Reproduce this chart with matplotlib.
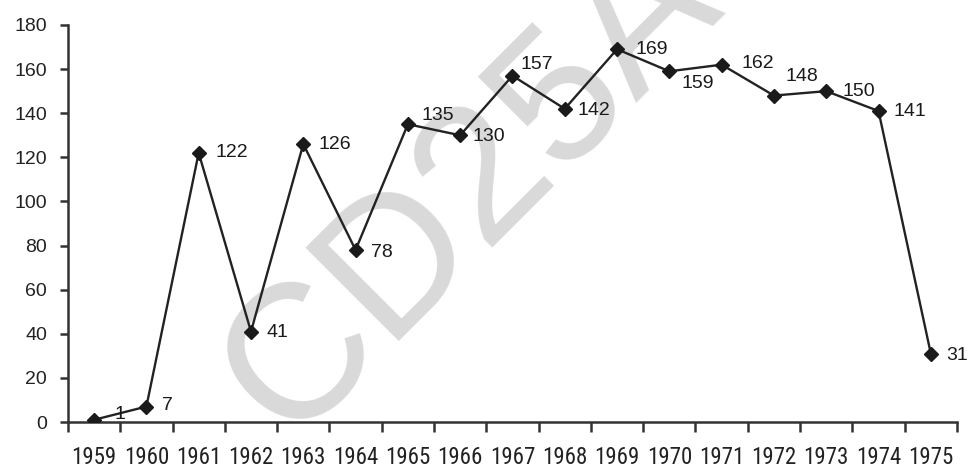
import matplotlib
matplotlib.use("Agg")
import matplotlib.pyplot as plt
from matplotlib import font_manager
from matplotlib.ticker import FixedLocator, NullFormatter

# data
years = ["1959", "1960", "1961", "1962", "1963", "1964", "1965", "1966", "1967",
         "1968", "1969", "1970", "1971", "1972", "1973", "1974", "1975"]
values = [1, 7, 122, 41, 126, 78, 135, 130, 157, 142, 169, 159, 162, 148, 150, 141, 31]
yticks = [0, 20, 40, 60, 80, 100, 120, 140, 160, 180]

# label offsets in points (dx, dy) relative to the marker
label_offsets = [(15, 4), (11, 1), (12, 0), (11, -1), (11, 0), (11, -2), (10, 6), (9, -1),
                 (6, 8), (9, -1), (13, 0), (9, -9), (14, 1), (8, 14), (12, 0), (11, 0), (11, -1)]

# pick a narrow face for the year labels if one is installed
narrow = None
for f in font_manager.fontManager.ttflist:
    if f.name in ("Liberation Sans Narrow", "Roboto Condensed", "DejaVu Sans Condensed", "Open Sans Condensed"):
        narrow = dict(family=f.name, stretch=f.stretch)
        break
    if f.name == "DejaVu Sans" and f.stretch == "condensed":
        narrow = dict(family="DejaVu Sans", stretch="condensed")
if narrow is None:
    year_font = dict(family="Liberation Sans", fontsize=12.5)
else:
    year_font = dict(fontsize=16.5, **narrow)

fig = plt.figure(figsize=(9.68, 4.74), dpi=100)
ax = fig.add_axes([0.0702, 0.1097, 0.9184, 0.8376])
ax.set_facecolor("none")

# faint watermark behind the chart
fig.text(0.487, 0.60, "CD25A", fontsize=138, color="#d9d9d9",
         family="Liberation Sans", rotation=45, rotation_mode="anchor",
         ha="center", va="center", zorder=-1)

x = list(range(len(years)))
ax.plot(x, values, color="#222222", linewidth=1.7, marker="D", markersize=7.5,
        markerfacecolor="#1a1a1a", markeredgecolor="#1a1a1a", zorder=3)

for xi, v, (dx, dy) in zip(x, values, label_offsets):
    ax.annotate(str(v), (xi, v), xytext=(dx, dy), textcoords="offset points",
                ha="left", va="center", fontsize=14, family="Liberation Sans",
                color="#1a1a1a")

ax.set_xlim(-0.5, len(years) - 0.5)
ax.set_ylim(0, 180)

ax.set_yticks(yticks)
ax.set_yticklabels([str(t) for t in yticks], family="Liberation Sans", fontsize=14,
                   color="#222222")

# category axis: tick marks between categories, labels centred
ax.xaxis.set_major_locator(FixedLocator(x))
ax.set_xticklabels(years, color="#222222", **year_font)
ax.xaxis.set_minor_locator(FixedLocator([i - 0.5 for i in range(len(years) + 1)]))
ax.xaxis.set_minor_formatter(NullFormatter())
ax.tick_params(axis="x", which="major", length=0, pad=17)
ax.tick_params(axis="x", which="minor", length=7, width=1.8, direction="out", color="#333333")
ax.tick_params(axis="y", length=6, width=1.8, direction="out", color="#333333", pad=9)

for side in ["top", "right"]:
    ax.spines[side].set_visible(False)
for side in ["left", "bottom"]:
    ax.spines[side].set_linewidth(1.8)
    ax.spines[side].set_color("#333333")

fig.savefig("out.png", dpi=100)
